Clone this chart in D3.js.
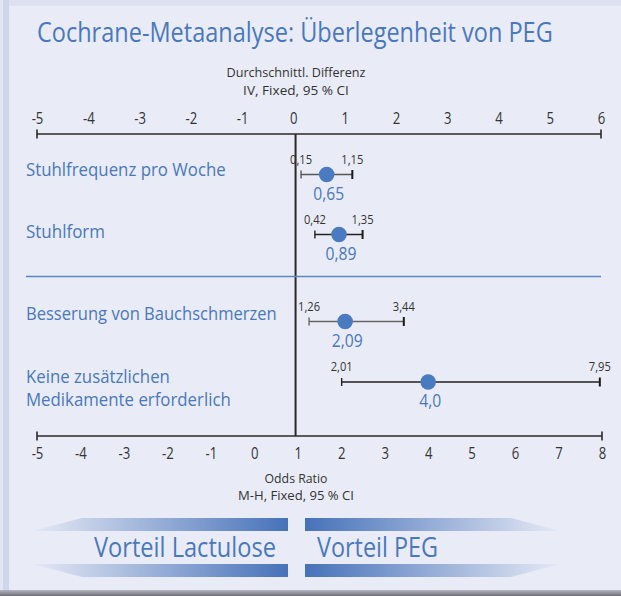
<!DOCTYPE html>
<html><head><meta charset="utf-8">
<script src="https://cdn.jsdelivr.net/npm/d3@7"></script>
<style>
html,body{margin:0;padding:0;background:#e9ecf6;}
svg{display:block;}
text{font-family:'Open Sans','Noto Sans',sans-serif;}
</style></head>
<body><svg id="c" width="621" height="596"></svg>
<script>
// ---- data ----
const titleText = "Cochrane-Metaanalyse: Überlegenheit von PEG";
const topAxisTitle = ["Durchschnittl. Differenz", "IV, Fixed, 95 % CI"];
const bottomAxisTitle = ["Odds Ratio", "M-H, Fixed, 95 % CI"];
const topTicks = [-5, -4, -3, -2, -1, 0, 1, 2, 3, 4, 5, 6];
const bottomTicks = [-5, -4, -3, -2, -1, 0, 1, 2, 3, 4, 5, 6, 7, 8];
const outcomes = [["Stuhlfrequenz pro Woche"], ["Stuhlform"], ["Besserung von Bauchschmerzen"], ["Keine zusätzlichen", "Medikamente erforderlich"]];
const estimates = [0.65, 0.89, 2.09, 4.0];
const lowerCI = [0.15, 0.42, 1.26, 2.01];
const upperCI = [1.15, 1.35, 3.44, 7.95];
const decimals = [2, 2, 2, 1];
const measure = ["md", "md", "or", "or"];
const favourLabels = ["Vorteil Lactulose", "Vorteil PEG"];

// ---- layout ----
const svg = d3.select("#c");
const W = 621, H = 596;
const blue = "#4a78bd", dark = "#2a2a2a";
const FONT = "'Open Sans','Noto Sans',sans-serif";
const de = d3.formatLocale({decimal: ",", thousands: ".", grouping: [3], currency: ["", "€"], minus: "-"});
const fmt = (v, d) => de.format("." + d + "f")(v);
const fmtInt = de.format("d");

const xTop = d3.scaleLinear().domain([-5, 6]).range([37, 601]);
const xBot = d3.scaleLinear().domain([-5, 8]).range([37, 602]);
const xOf = (m) => m === "md" ? xTop : xBot;

// horizontally condense a text to a target width via a transform (keeps real text)
function fit(sel, w) {
  sel.each(function () {
    const n = this.getComputedTextLength();
    const s = w / n;
    const el = d3.select(this);
    const x = +el.attr("x") || 0, y = +el.attr("y") || 0;
    el.attr("x", 0).attr("y", 0).attr("transform", `translate(${x},${y}) scale(${s},1)`);
  });
  return sel;
}

// frame
const defs = svg.append("defs");
const sh = defs.append("linearGradient").attr("id", "shadow").attr("x1", 0).attr("x2", 0).attr("y1", 0).attr("y2", 1);
sh.append("stop").attr("offset", 0).attr("stop-color", "#b4b6c2");
sh.append("stop").attr("offset", 1).attr("stop-color", "#6e6e78");
svg.append("rect").attr("width", W).attr("height", H).attr("fill", "#e9ecf6");
svg.append("rect").attr("x", 0).attr("y", 0).attr("width", W).attr("height", 6).attr("fill", "#dde1ef");
svg.append("rect").attr("x", 0).attr("y", 0).attr("width", 3).attr("height", H).attr("fill", "#e2e6f3");
svg.append("rect").attr("x", 3).attr("y", 0).attr("width", 6).attr("height", H).attr("fill", "#cfd5eb");
svg.append("rect").attr("x", 0).attr("y", 590).attr("width", W).attr("height", 6).attr("fill", "url(#shadow)");

// title
fit(svg.append("text").attr("x", 37).attr("y", 42).attr("font-size", 28).attr("fill", blue).text(titleText), 516);

// axis titles
const axTitleW = [[139, 106], [63, 116]];
topAxisTitle.forEach((t, i) => fit(svg.append("text").attr("x", 296).attr("y", 77 + i * 18).attr("text-anchor", "middle")
  .attr("font-size", 13).attr("fill", "#333").text(t), axTitleW[0][i]));
bottomAxisTitle.forEach((t, i) => fit(svg.append("text").attr("x", 296).attr("y", 483 + i * 17).attr("text-anchor", "middle")
  .attr("font-size", 13).attr("fill", "#333").text(t), axTitleW[1][i]));

// axes
const topY = 134, botY = 436;
const gTop = svg.append("g").attr("transform", `translate(0,${topY})`)
  .call(d3.axisTop(xTop).tickValues(topTicks).tickFormat(fmtInt).tickSize(0).tickPadding(10));
const gBot = svg.append("g").attr("transform", `translate(0,${botY})`)
  .call(d3.axisBottom(xBot).tickValues(bottomTicks).tickFormat(fmtInt).tickSize(0).tickPadding(12));
[gTop, gBot].forEach(g => {
  g.select(".domain").remove();
  g.selectAll(".tick text").attr("font-size", 16).attr("fill", "#333").style("font-family", FONT)
    .attr("transform", "scale(0.82,1)");
});

function axisLine(scale, y) {
  const [a, b] = scale.range();
  svg.append("line").attr("x1", a).attr("x2", b).attr("y1", y).attr("y2", y).attr("stroke", dark).attr("stroke-width", 1.6);
  [a, b].forEach(x => svg.append("line").attr("x1", x).attr("x2", x).attr("y1", y - 4.5).attr("y2", y + 4.5)
    .attr("stroke", dark).attr("stroke-width", 1.6));
}
axisLine(xTop, topY);
axisLine(xBot, botY);

// reference (no-effect) line
const refX = (xTop(0) + xBot(1)) / 2;
svg.append("line").attr("x1", refX).attr("x2", refX).attr("y1", topY).attr("y2", botY).attr("stroke", dark).attr("stroke-width", 2);

// separator
svg.append("line").attr("x1", 26).attr("x2", 601).attr("y1", 276.5).attr("y2", 276.5).attr("stroke", "#5a86c6").attr("stroke-width", 1.3);

// rows
const rowCI = [174.5, 234.5, 321.5, 382];
const rowLabelY = [[176], [238], [320], [383, 406]];
const rowLabelW = [[200], [79], [251], [144, 205]];
const ciColor = ["#555", "#222", "#666", "#222"];
outcomes.forEach((lines, i) => {
  lines.forEach((t, j) => fit(svg.append("text").attr("x", 26).attr("y", rowLabelY[i][j]).attr("font-size", 18)
    .attr("fill", blue).text(t), rowLabelW[i][j]));
  const x = xOf(measure[i]);
  const y = rowCI[i];
  const g = svg.append("g");
  g.append("line").attr("x1", x(lowerCI[i])).attr("x2", x(upperCI[i])).attr("y1", y).attr("y2", y)
    .attr("stroke", ciColor[i]).attr("stroke-width", 1.6);
  g.append("line").attr("x1", x(lowerCI[i])).attr("x2", x(lowerCI[i])).attr("y1", y - 4).attr("y2", y + 4)
    .attr("stroke", ciColor[i]).attr("stroke-width", 1.4);
  g.append("line").attr("x1", x(upperCI[i])).attr("x2", x(upperCI[i])).attr("y1", y - 4.5).attr("y2", y + 4.5)
    .attr("stroke", "#1a1a1a").attr("stroke-width", 2);
  [lowerCI[i], upperCI[i]].forEach(v => fit(g.append("text").attr("x", x(v)).attr("y", y - 11).attr("text-anchor", "middle")
    .attr("font-size", 12).attr("fill", "#333").text(fmt(v, 2)), 22));
  g.append("circle").attr("cx", x(estimates[i])).attr("cy", y).attr("r", 7.8).attr("fill", "#4a7abf");
  const vt = g.append("text").attr("x", x(estimates[i]) + 2).attr("y", y + 25).attr("text-anchor", "middle").attr("font-size", 18)
    .attr("fill", blue).text(fmt(estimates[i], decimals[i]));
  fit(vt, decimals[i] === 2 ? 31 : 22);
});

// favour arrows
const gl = defs.append("linearGradient").attr("id", "gl").attr("gradientUnits", "userSpaceOnUse")
  .attr("x1", 32).attr("x2", 288).attr("y1", 0).attr("y2", 0);
gl.append("stop").attr("offset", 0).attr("stop-color", "#e6e9f5");
gl.append("stop").attr("offset", 1).attr("stop-color", "#4672b9");
const gr = defs.append("linearGradient").attr("id", "gr").attr("gradientUnits", "userSpaceOnUse")
  .attr("x1", 305).attr("x2", 560).attr("y1", 0).attr("y2", 0);
gr.append("stop").attr("offset", 0).attr("stop-color", "#4672b9");
gr.append("stop").attr("offset", 1).attr("stop-color", "#e6e9f5");
const bands = [
  {pts: [[32, 531], [82, 518], [288, 518], [288, 531]], f: "url(#gl)"},
  {pts: [[32, 564], [288, 564], [288, 577], [82, 577]], f: "url(#gl)"},
  {pts: [[305, 518], [511, 518], [560, 531], [305, 531]], f: "url(#gr)"},
  {pts: [[305, 564], [560, 564], [511, 577], [305, 577]], f: "url(#gr)"}
];
bands.forEach(b => svg.append("polygon").attr("points", b.pts.map(p => p.join(",")).join(" ")).attr("fill", b.f));
fit(svg.append("text").attr("x", 94).attr("y", 557).attr("font-size", 27).attr("fill", "#4a78bd").text(favourLabels[0]), 182);
fit(svg.append("text").attr("x", 317).attr("y", 557).attr("font-size", 27).attr("fill", "#4a78bd").text(favourLabels[1]), 121);
</script></body></html>
